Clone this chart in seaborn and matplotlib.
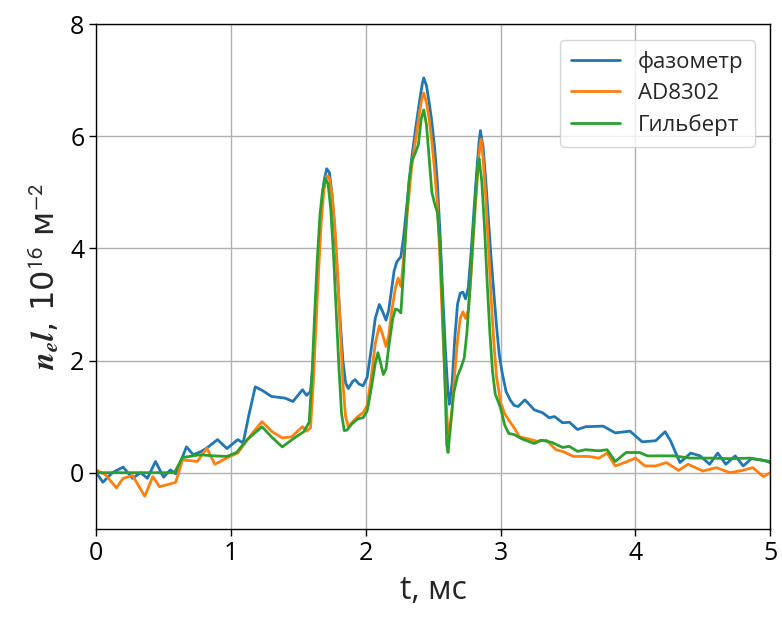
import numpy as np
import pandas as pd
import seaborn as sns
import matplotlib.pyplot as plt

# values (t in ms, n_e*l in 1e16 m^-2)
t_phase = [0.0, 0.05, 0.12, 0.2, 0.27, 0.33, 0.38, 0.44, 0.5, 0.55, 0.59, 0.67, 0.72, 0.78, 0.82,
           0.9, 0.97, 1.05, 1.09, 1.13, 1.18, 1.23, 1.3, 1.4, 1.46, 1.53, 1.56, 1.59, 1.61, 1.63,
           1.65, 1.67, 1.69, 1.71, 1.73, 1.75, 1.77, 1.79, 1.81, 1.83, 1.85, 1.87, 1.9, 1.92, 1.95,
           1.98, 2.01, 2.04, 2.07, 2.1, 2.12, 2.15, 2.17, 2.19, 2.21, 2.23, 2.26, 2.28, 2.31, 2.34,
           2.37, 2.4, 2.42, 2.43, 2.45, 2.47, 2.49, 2.51, 2.53, 2.55, 2.57, 2.59, 2.61, 2.62, 2.64,
           2.66, 2.68, 2.7, 2.72, 2.74, 2.76, 2.78, 2.8, 2.82, 2.84, 2.85, 2.87, 2.89, 2.91, 2.93,
           2.95, 2.97, 2.99, 3.01, 3.04, 3.07, 3.1, 3.13, 3.18, 3.25, 3.31, 3.36, 3.4, 3.46, 3.51,
           3.57, 3.63, 3.76, 3.85, 3.96, 4.05, 4.15, 4.22, 4.26, 4.33, 4.41, 4.48, 4.55, 4.61, 4.67,
           4.74, 4.8, 4.86, 4.95, 5.0]
v_phase = [0.0, -0.17, 0.0, 0.1, -0.1, 0.0, -0.1, 0.2, -0.08, 0.05, -0.02, 0.46, 0.32, 0.38, 0.44,
           0.59, 0.43, 0.59, 0.53, 1.0, 1.53, 1.47, 1.36, 1.33, 1.27, 1.48, 1.38, 1.45, 2.0, 3.0,
           3.95, 4.7, 5.2, 5.42, 5.35, 4.95, 4.3, 3.5, 2.7, 2.0, 1.6, 1.5, 1.62, 1.66, 1.58,
           1.55, 1.7, 2.2, 2.75, 3.0, 2.9, 2.72, 2.9, 3.25, 3.6, 3.76, 3.85, 4.2, 4.9, 5.6,
           6.15, 6.65, 6.95, 7.04, 6.9, 6.6, 6.25, 5.8, 5.2, 4.3, 3.2, 2.2, 1.4, 1.22, 1.6,
           2.4, 3.0, 3.2, 3.22, 3.1, 3.3, 3.9, 4.6, 5.3, 5.9, 6.1, 5.8, 5.2, 4.5, 3.8,
           3.2, 2.6, 2.1, 1.8, 1.45, 1.3, 1.2, 1.18, 1.3, 1.12, 1.07, 0.98, 1.0, 0.89, 0.9,
           0.77, 0.82, 0.83, 0.71, 0.74, 0.55, 0.57, 0.73, 0.57, 0.18, 0.35, 0.3, 0.15, 0.35, 0.15,
           0.3, 0.12, 0.25, 0.22, 0.18]

t_ad = [0.0, 0.07, 0.15, 0.2, 0.27, 0.36, 0.42, 0.47, 0.55, 0.59, 0.64, 0.75, 0.82, 0.88, 1.0,
        1.05, 1.16, 1.23, 1.3, 1.38, 1.45, 1.53, 1.56, 1.59, 1.61, 1.63, 1.65, 1.67, 1.69, 1.71,
        1.73, 1.75, 1.77, 1.79, 1.81, 1.83, 1.85, 1.87, 1.9, 1.94, 1.98, 2.01, 2.04, 2.07, 2.1,
        2.12, 2.15, 2.17, 2.19, 2.22, 2.24, 2.26, 2.28, 2.31, 2.34, 2.37, 2.4, 2.42, 2.43, 2.45,
        2.47, 2.49, 2.51, 2.53, 2.55, 2.57, 2.59, 2.61, 2.62, 2.64, 2.66, 2.68, 2.7, 2.72, 2.74,
        2.76, 2.78, 2.8, 2.82, 2.84, 2.855, 2.87, 2.89, 2.91, 2.93, 2.95, 2.97, 3.0, 3.03, 3.06,
        3.1, 3.14, 3.21, 3.27, 3.34, 3.41, 3.47, 3.54, 3.65, 3.73, 3.79, 3.85, 3.94, 4.0, 4.07,
        4.15, 4.23, 4.32, 4.39, 4.5, 4.6, 4.7, 4.79, 4.87, 4.95, 5.0]
v_ad = [0.05, -0.04, -0.27, -0.1, -0.05, -0.42, -0.07, -0.25, -0.2, -0.17, 0.23, 0.2, 0.44, 0.15, 0.3,
        0.35, 0.71, 0.91, 0.74, 0.62, 0.64, 0.82, 0.74, 0.8, 1.6, 2.6, 3.6, 4.5, 5.05, 5.3,
        5.25, 4.95, 4.4, 3.6, 2.6, 1.6, 1.0, 0.82, 0.9, 1.0, 1.07, 1.2, 1.7, 2.3, 2.62,
        2.5, 2.25, 2.45, 2.85, 3.3, 3.47, 3.32, 3.8, 4.7, 5.45, 5.95, 6.45, 6.72, 6.77, 6.6,
        6.3, 5.9, 5.4, 4.8, 3.8, 2.6, 1.5, 0.7, 0.66, 1.1, 1.8, 2.35, 2.75, 2.87, 2.75,
        2.9, 3.5, 4.3, 5.0, 5.7, 5.95, 5.6, 4.9, 4.0, 3.1, 2.3, 1.7, 1.25, 1.05, 0.94,
        0.8, 0.64, 0.6, 0.56, 0.58, 0.41, 0.37, 0.29, 0.29, 0.26, 0.35, 0.12, 0.2, 0.26, 0.12,
        0.12, 0.18, 0.04, 0.15, 0.03, 0.09, 0.0, 0.04, 0.09, -0.07, 0.0]

t_gilb = [0.0, 0.3, 0.58, 0.64, 0.77, 0.87, 0.97, 1.04, 1.12, 1.23, 1.3, 1.38, 1.47, 1.54, 1.58,
          1.6, 1.62, 1.64, 1.66, 1.68, 1.7, 1.72, 1.74, 1.76, 1.78, 1.8, 1.82, 1.84, 1.86, 1.9,
          1.94, 1.98, 2.01, 2.04, 2.07, 2.09, 2.11, 2.13, 2.15, 2.17, 2.2, 2.22, 2.24, 2.26, 2.28,
          2.3, 2.32, 2.34, 2.37, 2.39, 2.41, 2.43, 2.45, 2.47, 2.49, 2.51, 2.53, 2.55, 2.57, 2.59,
          2.6, 2.61, 2.63, 2.65, 2.68, 2.71, 2.73, 2.75, 2.77, 2.79, 2.81, 2.83, 2.84, 2.86, 2.88,
          2.9, 2.92, 2.94, 2.96, 2.98, 3.0, 3.03, 3.06, 3.1, 3.16, 3.25, 3.3, 3.38, 3.46, 3.51,
          3.57, 3.63, 3.73, 3.79, 3.85, 3.93, 4.03, 4.09, 4.28, 4.41, 4.55, 4.71, 4.85, 5.0]
v_gilb = [0.0, 0.0, 0.0, 0.27, 0.32, 0.3, 0.29, 0.36, 0.59, 0.82, 0.64, 0.46, 0.62, 0.73, 0.9,
          1.7, 2.8, 3.8, 4.6, 5.05, 5.25, 5.15, 4.7, 3.9, 2.9, 1.9, 1.05, 0.75, 0.76, 0.88,
          0.96, 0.98, 1.1, 1.5, 1.95, 2.14, 1.95, 1.75, 1.85, 2.25, 2.75, 2.92, 2.9, 2.85, 3.6,
          4.5, 5.2, 5.55, 5.72, 5.85, 6.3, 6.47, 6.2, 5.6, 5.0, 4.8, 4.65, 4.1, 2.9, 1.4,
          0.5, 0.36, 0.9, 1.4, 1.72, 1.9, 2.05, 2.5, 3.2, 4.0, 4.8, 5.45, 5.6, 5.2, 4.4,
          3.4, 2.5, 1.8, 1.4, 1.28, 1.15, 0.85, 0.7, 0.68, 0.6, 0.52, 0.58, 0.54, 0.45, 0.47,
          0.38, 0.41, 0.39, 0.41, 0.2, 0.36, 0.36, 0.3, 0.3, 0.26, 0.26, 0.25, 0.26, 0.2]

labels = ['фазометр', 'AD8302', 'Гильберт']
colors = ['#1f77b4', '#ff7f0e', '#2ca02c']

df = pd.concat([
    pd.DataFrame({'t': t_phase, 'v': v_phase, 'src': labels[0]}),
    pd.DataFrame({'t': t_ad, 'v': v_ad, 'src': labels[1]}),
    pd.DataFrame({'t': t_gilb, 'v': v_gilb, 'src': labels[2]}),
])

sns.set_style('ticks')
plt.rcParams['font.family'] = ['Open Sans', 'DejaVu Sans']
plt.rcParams['mathtext.fontset'] = 'stix'

fig = plt.figure(figsize=(7.82, 6.17), dpi=100)
ax = fig.add_axes([0.123, 0.143, 0.862, 0.818])
sns.lineplot(data=df, x='t', y='v', hue='src', palette=colors, estimator=None,
             linewidth=2, ax=ax)

ax.set_xlim(0, 5)
ax.set_ylim(-1, 8)
ax.set_xticks([0, 1, 2, 3, 4, 5])
ax.set_yticks([0, 2, 4, 6, 8])
ax.grid(True, color='#b0b0b0', linewidth=1)
ax.tick_params(labelsize=18, length=5, width=1, colors='black')
for s in ax.spines.values():
    s.set_color('black')
    s.set_linewidth(1)

ax.set_xlabel('t, мс', fontsize=23, labelpad=6)
ax.set_ylabel(r'$\mathbfit{n_e l}$, 10$^{\mathsf{16}}$ м$^{\mathsf{-2}}$', fontsize=23,
              family=['DejaVu Sans'], labelpad=6)
ax.legend(title=None, loc='upper right', fontsize=16, frameon=True,
          handlelength=2.2, borderpad=0.5, borderaxespad=0.7, labelspacing=0.45)

fig.savefig('out.png', dpi=100)
